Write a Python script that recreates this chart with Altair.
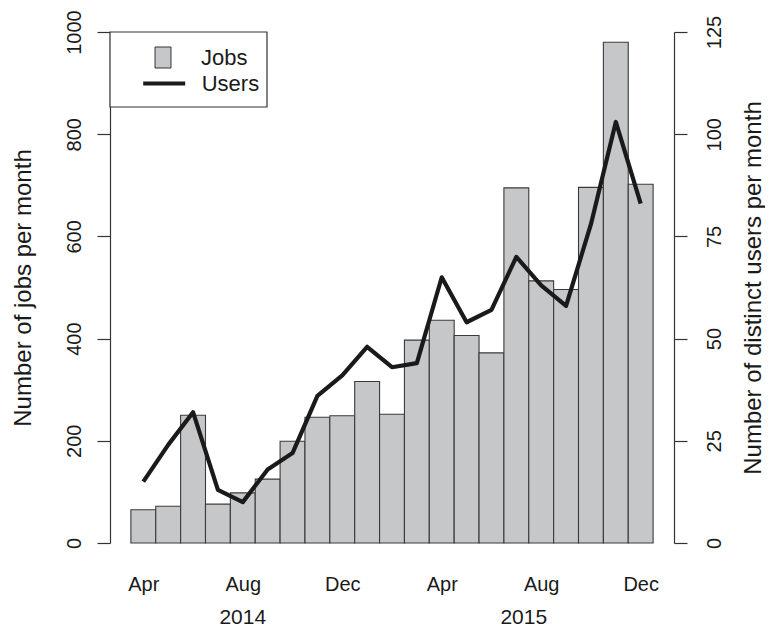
import altair as alt
import pandas as pd

# ---- data ----
months = ["Apr", "May", "Jun", "Jul", "Aug", "Sep", "Oct", "Nov", "Dec",
          "Jan", "Feb", "Mar", "Apr", "May", "Jun", "Jul", "Aug", "Sep", "Oct", "Nov", "Dec"]
jobs = [65, 72, 250, 76, 98, 125, 199, 246, 249, 316, 252,
        397, 436, 406, 372, 695, 513, 496, 696, 980, 702]
users = [15, 24, 32, 13, 10, 18, 22, 36, 41, 48, 43,
         44, 65, 54, 57, 70, 63, 58, 78, 103, 83]
month_ticks = [0.5, 4.5, 8.5, 12.5, 16.5, 20.5]   # Apr, Aug, Dec, Apr, Aug, Dec
years = ["2014", "2015"]
year_label_at = [4.5, 15.8]
jobs_ticks = [0, 200, 400, 600, 800, 1000]
users_ticks = [0, 25, 50, 75, 100, 125]

df = pd.DataFrame({"idx": list(range(len(months))), "month": months,
                   "jobs": jobs, "users": users})
df["x0"] = df["idx"]
df["x1"] = df["idx"] + 1
df["xc"] = df["idx"] + 0.5
df["zero"] = 0
df["s_jobs"] = "Jobs"
df["s_users"] = "Users"

years_df = pd.DataFrame({"year": years, "pos": year_label_at})

FONT = "Liberation Sans"
TXT = "#1a1a1a"
AX = "#333333"

xscale = alt.Scale(domain=[-0.84, 21.84], nice=False, zero=False)
label_expr = "[" + ",".join("'%s'" % m for m in months) + "][floor(datum.value)]"
xaxis = alt.Axis(values=month_ticks, labelExpr=label_expr, domain=False, ticks=False,
                 tickSize=0, grid=False, labelPadding=47, labelBaseline="alphabetic",
                 labelAlign="center", labelAngle=0, labelFlush=False, title=None,
                 labelFontSize=20)

left_axis = alt.Axis(orient="left", values=jobs_ticks, format="d",
                     title="Number of jobs per month",
                     grid=False, tickSize=13, labelPadding=17, labelAngle=270,
                     labelAlign="center", labelBaseline="alphabetic",
                     titleAngle=270, titleAlign="center", titleBaseline="alphabetic",
                     titleX=-80, titleY=255.5, labelFontSize=20, titleFontSize=24)

right_axis = alt.Axis(orient="right", values=users_ticks, format="d",
                      title="Number of distinct users per month",
                      grid=False, tickSize=13, labelPadding=33, labelAngle=270,
                      labelAlign="center", labelBaseline="alphabetic",
                      titleAngle=270, titleAlign="center", titleBaseline="alphabetic",
                      titleX=86, titleY=255.5, labelFontSize=20, titleFontSize=24)

box = alt.Chart(pd.DataFrame({"k": [0]})).mark_rect(
    fill="white", stroke=AX, strokeWidth=1.2
).encode(x=alt.value(0), x2=alt.value(157), y=alt.value(0), y2=alt.value(75))

bars = alt.Chart(df).mark_rect(stroke="#3a3a3a", strokeWidth=1.1).encode(
    x=alt.X("x0:Q", scale=xscale, axis=xaxis),
    x2="x1:Q",
    y=alt.Y("jobs:Q", scale=alt.Scale(domain=[0, 1000], nice=False), axis=left_axis),
    y2="zero:Q",
    fill=alt.Fill("s_jobs:N",
                  scale=alt.Scale(domain=["Jobs"], range=["#c6c7c9"]),
                  legend=alt.Legend(orient="none", legendX=42, legendY=14.5, title=None,
                                    symbolType="M-0.76,-1H0.76V1H-0.76Z", symbolSize=441,
                                    symbolStrokeColor="#333333", symbolStrokeWidth=1,
                                    labelFontSize=22, labelOffset=27, padding=0,
                                    labelFont=FONT, labelColor=TXT)),
)

line = alt.Chart(df).mark_line(strokeWidth=4.2, strokeJoin="round").encode(
    x=alt.X("xc:Q", scale=xscale, axis=xaxis),
    y=alt.Y("users:Q", scale=alt.Scale(domain=[0, 125], nice=False), axis=right_axis),
    stroke=alt.Stroke("s_users:N",
                      scale=alt.Scale(domain=["Users"], range=["#1a1a1a"]),
                      legend=alt.Legend(orient="none", legendX=31.2, legendY=28.5, title=None,
                                        symbolType="stroke", symbolSize=1764,
                                        symbolStrokeWidth=4,
                                        labelFontSize=22, labelOffset=14.5, padding=0,
                                        labelFont=FONT, labelColor=TXT)),
)

year_text = alt.Chart(years_df).mark_text(
    fontSize=21, baseline="alphabetic", align="center", font=FONT, color=TXT
).encode(
    x=alt.X("pos:Q", scale=xscale, axis=xaxis),
    y=alt.value(592),
    text="year:N",
)

chart = alt.layer(box, bars, line, year_text).resolve_scale(
    y="independent"
).properties(
    width=564, height=511,
    autosize=alt.AutoSizeParams(type="none"),
    padding={"left": 102, "top": 24, "right": 91, "bottom": 87},
).configure(
    font=FONT
).configure_axis(
    labelColor=TXT, titleColor=TXT, domainColor=AX, tickColor=AX,
    domainWidth=1.2, tickWidth=1.2, titleFontWeight="normal", labelFont=FONT, titleFont=FONT
).configure_view(
    strokeWidth=0
)

chart.save("out.html", embed_options={"renderer": "svg", "actions": False})
